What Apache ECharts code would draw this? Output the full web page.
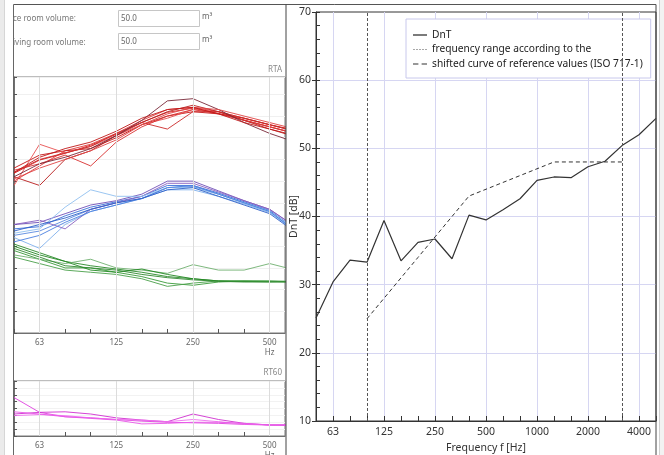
<!DOCTYPE html>
<html>
<head>
<meta charset="utf-8">
<script src="https://cdn.jsdelivr.net/npm/echarts@6/dist/echarts.min.js"></script>
<style>
html,body{margin:0;padding:0;background:#fff;}
#chart{width:664px;height:455px;}
</style>
</head>
<body>
<div id="chart"></div>
<script>
// ---------- main chart data ----------
const bands = ['50','63','80','100','125','160','200','250','315','400','500','630','800','1000','1250','1600','2000','2500','3150','4000','5000'];
const octaveLabels = ['63','125','250','500','1000','2000','4000'];
const dnt = [25.1, 30.4, 33.6, 33.3, 39.4, 33.5, 36.2, 36.7, 33.8, 40.2, 39.5, 41.0, 42.6, 45.3, 45.8, 45.7, 47.3, 48.1, 50.4, 52.0, 54.4];
const refShifted = [null, null, null, 25, 28, 31, 34, 37, 40, 43, 44, 45, 46, 47, 48, 48, 48, 48, 48, null, null];
const rangeLimits = ['100', '3150'];
const legendNames = ['DnT', 'frequency range according to the', 'shifted curve of reference values (ISO 717-1)'];

// ---------- left panel (RTA / RT60) data ----------
const rtaBands = ['50','63','80','100','125','160','200','250','315','400','500','630'];
const rtaLabels = ['63','125','250','500'];
const redLines = [
  [73.6, 79.7, 82.8, 86.6, 91.6, 97.1, 101.7, 103.6, 101.2, 98.2, 95.1, 92.0],
  [70, 77, 84, 87, 92, 98, 103, 104, 102, 99, 96, 93],
  [76, 82, 84, 85, 90, 96, 100, 102, 101, 99, 96, 93.5],
  [68, 87, 83, 86, 91, 96, 99, 103, 102, 98, 95, 92],
  [72, 68, 80, 84, 91, 97, 102, 105, 102, 98, 94, 91],
  [75, 78, 82, 77, 88, 95, 100, 103, 101, 98, 95, 92],
  [74, 80, 83, 86, 92, 97, 94, 102, 102, 99, 96, 93],
  [72, 78, 81, 85, 91, 98, 107, 108, 103, 97, 92, 88],
  [71, 76, 80, 84, 89, 96, 101, 104, 103, 100, 97, 94],
  [74, 81, 85, 88, 93, 99, 103, 104, 101, 97, 94, 90.5]
];
const blueLines = [
  [48, 49, 54, 58, 60.5, 63, 68, 68, 64.5, 60.5, 56.5, 48],
  [45, 47, 52, 57, 60, 62, 67, 67.5, 64, 60, 56, 47.5],
  [44, 39, 50, 56, 59, 62, 66, 66, 63, 59.5, 55.5, 47],
  [50, 51, 55, 59, 61, 64, 70, 70, 65.5, 61, 57, 49],
  [50, 52, 48, 57, 60, 63, 69, 69, 65, 61, 57, 49],
  [46, 48, 58, 66, 63, 63, 67, 67, 64, 60, 56, 48],
  [42, 45, 51, 56, 59, 62, 67, 68, 64, 60, 56, 47],
  [47, 50, 53, 57, 60, 62, 66, 67, 63, 59, 55, 46.5]
];
const greenLines = [
  [41, 37, 33, 31, 29.5, 28, 26, 25, 24, 23.8, 23.8, 23.6],
  [38, 34, 30, 30, 28, 26, 23, 22, 23.5, 24, 24, 23.8],
  [36, 34, 32, 34, 30, 29, 27.5, 31.5, 29, 29, 32, 29],
  [40, 36, 33, 29, 28, 29.5, 27, 25, 24, 23.8, 23.6, 23.5],
  [35, 32, 29, 28, 27, 25, 21.5, 23, 24, 24, 23.8, 23.6],
  [39, 35, 31, 30, 29, 27, 25.5, 24.5, 23.8, 23.5, 23.5, 23.7]
];
const rt60Lines = [
  [5.6, 3.44, 2.8, 2.64, 2.4, 2.16, 2.0, 1.92, 1.84, 1.68, 1.6, 1.6],
  [3.2, 3.44, 3.52, 3.2, 2.64, 2.32, 2.08, 3.2, 2.4, 1.84, 1.6, 1.6],
  [2.96, 3.12, 2.96, 2.64, 2.4, 2.32, 2.08, 2.4, 2.08, 1.76, 1.6, 1.6],
  [3.52, 3.2, 2.8, 2.56, 2.32, 1.76, 1.84, 2.0, 2.0, 1.84, 1.6, 1.52]
];
const redColors = ['#d42020','#e03a3a','#c41414','#e85050','#b81c1c','#d83030','#cc2a2a','#7a2a3a','#e04444','#c01818'];
const blueColors = ['#3a70d8','#5a8ae0','#80b0ec','#7050b8','#8860c0','#90c0f0','#4a80e0','#3060c8'];
const greenColors = ['#2a8a2a','#3a9a3a','#70b070','#228822','#4aa04a','#308830'];
const rt60Colors = ['#e040e0','#d030d0','#f070f0','#e858e8'];

const FONT = 'Noto Sans';
const chart = echarts.init(document.getElementById('chart'), null, {renderer: 'canvas'});

function leftSeries(lines, colors, xi, yi) {
  return lines.map((vals, k) => ({
    type: 'line', xAxisIndex: xi, yAxisIndex: yi,
    data: vals.map((v, i) => [i, v]),
    symbol: 'none', silent: true, z: 3,
    lineStyle: {color: colors[k % colors.length], width: 1, opacity: 0.9}
  }));
}
function rtaLabelFmt(v) {
  const i = Math.round(v);
  if (Math.abs(v - i) > 1e-6) return '';
  const b = rtaBands[i];
  if (!rtaLabels.includes(b)) return '';
  return b === '500' ? '500\nHz' : b;
}
const smallAxisX = (gi) => ({
  type: 'value', gridIndex: gi, min: 0, max: 10.6, interval: 1,
  axisLine: {show: true, lineStyle: {color: '#707070'}},
  axisTick: {show: true, inside: true, length: 4, lineStyle: {color: '#555'}},
  axisLabel: {formatter: rtaLabelFmt, fontSize: 8, color: '#666', margin: 5, lineHeight: 10, fontFamily: FONT, showMaxLabel: false},
  splitLine: {show: false}
});

const iconSolid = 'path://M0,0H14V1.3H0Z';
const iconDotted = 'path://M0,0H2V1H0Z M3,0H5V1H3Z M6,0H8V1H6Z M9,0H11V1H9Z M12,0H14V1H12Z';
const iconDashed = 'path://M0,0H5V1H0Z M8,0H13V1H8Z';

const option = {
  animation: false,
  backgroundColor: '#ffffff',
  textStyle: {fontFamily: FONT},
  grid: [
    {left: 316, top: 12, width: 340, height: 409, show: true, borderColor: '#333', borderWidth: 1, outerBoundsMode: 'none', containLabel: false},
    {left: 14, top: 77, width: 271, height: 256, show: true, borderColor: '#7a7a7a', borderWidth: 1, outerBoundsMode: 'none', containLabel: false},
    {left: 14, top: 381, width: 271, height: 55, show: true, borderColor: '#7a7a7a', borderWidth: 1, outerBoundsMode: 'none', containLabel: false}
  ],
  legend: {
    data: [
      {name: legendNames[0], icon: iconSolid},
      {name: legendNames[1], icon: iconDotted},
      {name: legendNames[2], icon: iconDashed}
    ],
    orient: 'vertical', left: 406, top: 19,
    padding: [9, 8, 7, 7], itemWidth: 14, itemHeight: 1.3, itemGap: 0.5,
    backgroundColor: '#fff', borderColor: '#c8c8ec', borderWidth: 1, borderRadius: 0,
    textStyle: {fontSize: 10.2, lineHeight: 14, color: '#222', fontFamily: FONT}, selectedMode: false
  },
  xAxis: [
    {
      type: 'category', gridIndex: 0, data: bands, boundaryGap: false,
      axisLine: {lineStyle: {color: '#333'}},
      axisTick: {show: true, interval: 0, inside: true, length: 5, lineStyle: {color: '#333'}},
      axisLabel: {interval: (i, v) => octaveLabels.includes(v), color: '#333', fontSize: 10.5, margin: 6},
      splitLine: {show: true, interval: (i, v) => octaveLabels.includes(v), lineStyle: {color: '#d6d6f2'}},
      name: 'Frequency f [Hz]', nameLocation: 'middle', nameGap: 22, nameMoveOverlap: false,
      nameTextStyle: {color: '#333', fontSize: 10.5}
    },
    smallAxisX(1),
    smallAxisX(2)
  ],
  yAxis: [
    {
      type: 'value', gridIndex: 0, position: 'left', min: 10, max: 70, interval: 10,
      axisLine: {show: true, lineStyle: {color: '#333'}},
      axisTick: {show: true, inside: false, length: 4, lineStyle: {color: '#333'}},
      axisLabel: {color: '#333', fontSize: 10.5, margin: 5},
      splitLine: {show: true, showMinLine: false, showMaxLine: false, lineStyle: {color: '#d6d6f2'}},
      name: 'DnT [dB]', nameLocation: 'middle', nameGap: 16, nameRotate: 90, nameMoveOverlap: false,
      nameTextStyle: {color: '#333', fontSize: 10.5}
    },
    {
      type: 'value', gridIndex: 0, position: 'left', min: 10, max: 70, interval: 2,
      axisLine: {show: false},
      axisTick: {show: true, inside: true, length: 4, lineStyle: {color: '#333'}},
      axisLabel: {show: false}, splitLine: {show: false}
    },
    {
      type: 'value', gridIndex: 1, position: 'left', min: 0, max: 118, interval: 10,
      axisLine: {show: true, lineStyle: {color: '#707070'}},
      axisTick: {show: true, inside: true, length: 3, lineStyle: {color: '#555'}},
      axisLabel: {show: false},
      splitLine: {show: true, lineStyle: {color: '#f0f0f0'}}
    },
    {
      type: 'value', gridIndex: 2, position: 'left', min: 0, max: 8, interval: 1,
      axisLine: {show: true, lineStyle: {color: '#707070'}},
      axisTick: {show: true, inside: true, length: 3, lineStyle: {color: '#555'}},
      axisLabel: {show: false},
      splitLine: {show: true, lineStyle: {color: '#f2f2f2'}}
    }
  ],
  series: [
    {
      name: legendNames[1], type: 'line', xAxisIndex: 0, yAxisIndex: 0,
      data: bands.map(() => null), symbol: 'none', z: 2,
      itemStyle: {color: '#a8a8a8'},
      lineStyle: {color: '#a8a8a8', type: [2, 2], width: 1},
      markLine: {
        silent: true, symbol: 'none', label: {show: false},
        lineStyle: {color: '#555', type: [3, 2], width: 1},
        data: rangeLimits.map(f => ({xAxis: f}))
      }
    },
    {
      name: legendNames[2], type: 'line', xAxisIndex: 0, yAxisIndex: 0,
      data: refShifted, symbol: 'none', connectNulls: false, z: 3,
      itemStyle: {color: '#333'},
      lineStyle: {color: '#333', type: [4, 3], width: 1}
    },
    {
      name: legendNames[0], type: 'line', xAxisIndex: 0, yAxisIndex: 0,
      data: dnt, symbol: 'none', z: 4,
      itemStyle: {color: '#333'},
      lineStyle: {color: '#333', width: 1.2}
    },
    {
      type: 'line', xAxisIndex: 1, yAxisIndex: 2, data: [], symbol: 'none', z: 1, silent: true,
      markLine: {silent: true, symbol: 'none', label: {show: false},
        lineStyle: {color: '#dcdcdc', type: 'solid', width: 1},
        data: rtaLabels.map(b => ({xAxis: rtaBands.indexOf(b)}))}
    },
    {
      type: 'line', xAxisIndex: 2, yAxisIndex: 3, data: [], symbol: 'none', z: 1, silent: true,
      markLine: {silent: true, symbol: 'none', label: {show: false},
        lineStyle: {color: '#dcdcdc', type: 'solid', width: 1},
        data: rtaLabels.map(b => ({xAxis: rtaBands.indexOf(b)}))}
    },
    ...leftSeries(greenLines, greenColors, 1, 2),
    ...leftSeries(blueLines, blueColors, 1, 2),
    ...leftSeries(redLines, redColors, 1, 2),
    ...leftSeries(rt60Lines, rt60Colors, 2, 3)
  ],
  graphic: {
    elements: [
      {type: 'rect', z: 0, shape: {x: 0, y: 0, width: 4, height: 455}, style: {fill: '#ebebeb'}},
      {type: 'line', z: 50, shape: {x1: 4.5, y1: 0, x2: 4.5, y2: 455}, style: {stroke: '#d6d6d6', lineWidth: 1}},
      {type: 'rect', z: 0, shape: {x: 660, y: 0, width: 4, height: 455}, style: {fill: '#f2f2f2'}},
      {type: 'line', z: 50, shape: {x1: 659.5, y1: 0, x2: 659.5, y2: 455}, style: {stroke: '#d0d0d0', lineWidth: 1}},
      {type: 'line', z: 50, shape: {x1: 13.5, y1: 4.5, x2: 656, y2: 4.5}, style: {stroke: '#555', lineWidth: 1}},
      {type: 'line', z: 50, shape: {x1: 13.5, y1: 4.5, x2: 13.5, y2: 455}, style: {stroke: '#666', lineWidth: 1}},
      {type: 'line', z: 50, shape: {x1: 286, y1: 4.5, x2: 286, y2: 455}, style: {stroke: '#444', lineWidth: 1}},
      {type: 'line', z: 50, shape: {x1: 656, y1: 4.5, x2: 656, y2: 455}, style: {stroke: '#444', lineWidth: 1}},
      {type: 'text', z: 50, x: 13, y: 19, style: {text: 'ce room volume:', fill: '#777', font: '8px "Noto Sans"', verticalAlign: 'middle'}},
      {type: 'rect', z: 50, shape: {x: 118.5, y: 10.5, width: 81, height: 16}, style: {fill: '#fff', stroke: '#c6c6c6', lineWidth: 1}},
      {type: 'text', z: 51, x: 121, y: 18.5, style: {text: '50.0', fill: '#666', font: '8px "Noto Sans"', verticalAlign: 'middle'}},
      {type: 'text', z: 50, x: 202, y: 17, style: {text: 'm³', fill: '#666', font: '8px "Noto Sans"', verticalAlign: 'middle'}},
      {type: 'text', z: 50, x: 13, y: 43, style: {text: 'iving room volume:', fill: '#777', font: '8px "Noto Sans"', verticalAlign: 'middle'}},
      {type: 'rect', z: 50, shape: {x: 118.5, y: 33.5, width: 81, height: 16}, style: {fill: '#fff', stroke: '#c6c6c6', lineWidth: 1}},
      {type: 'text', z: 51, x: 121, y: 41.5, style: {text: '50.0', fill: '#666', font: '8px "Noto Sans"', verticalAlign: 'middle'}},
      {type: 'text', z: 50, x: 202, y: 40, style: {text: 'm³', fill: '#666', font: '8px "Noto Sans"', verticalAlign: 'middle'}},
      {type: 'text', z: 50, x: 282, y: 70, style: {text: 'RTA', fill: '#888', font: '8px "Noto Sans"', align: 'right', verticalAlign: 'middle'}},
      {type: 'text', z: 50, x: 282, y: 373, style: {text: 'RT60', fill: '#888', font: '8px "Noto Sans"', align: 'right', verticalAlign: 'middle'}}
    ]
  }
};
chart.setOption(option);
</script>
</body>
</html>
